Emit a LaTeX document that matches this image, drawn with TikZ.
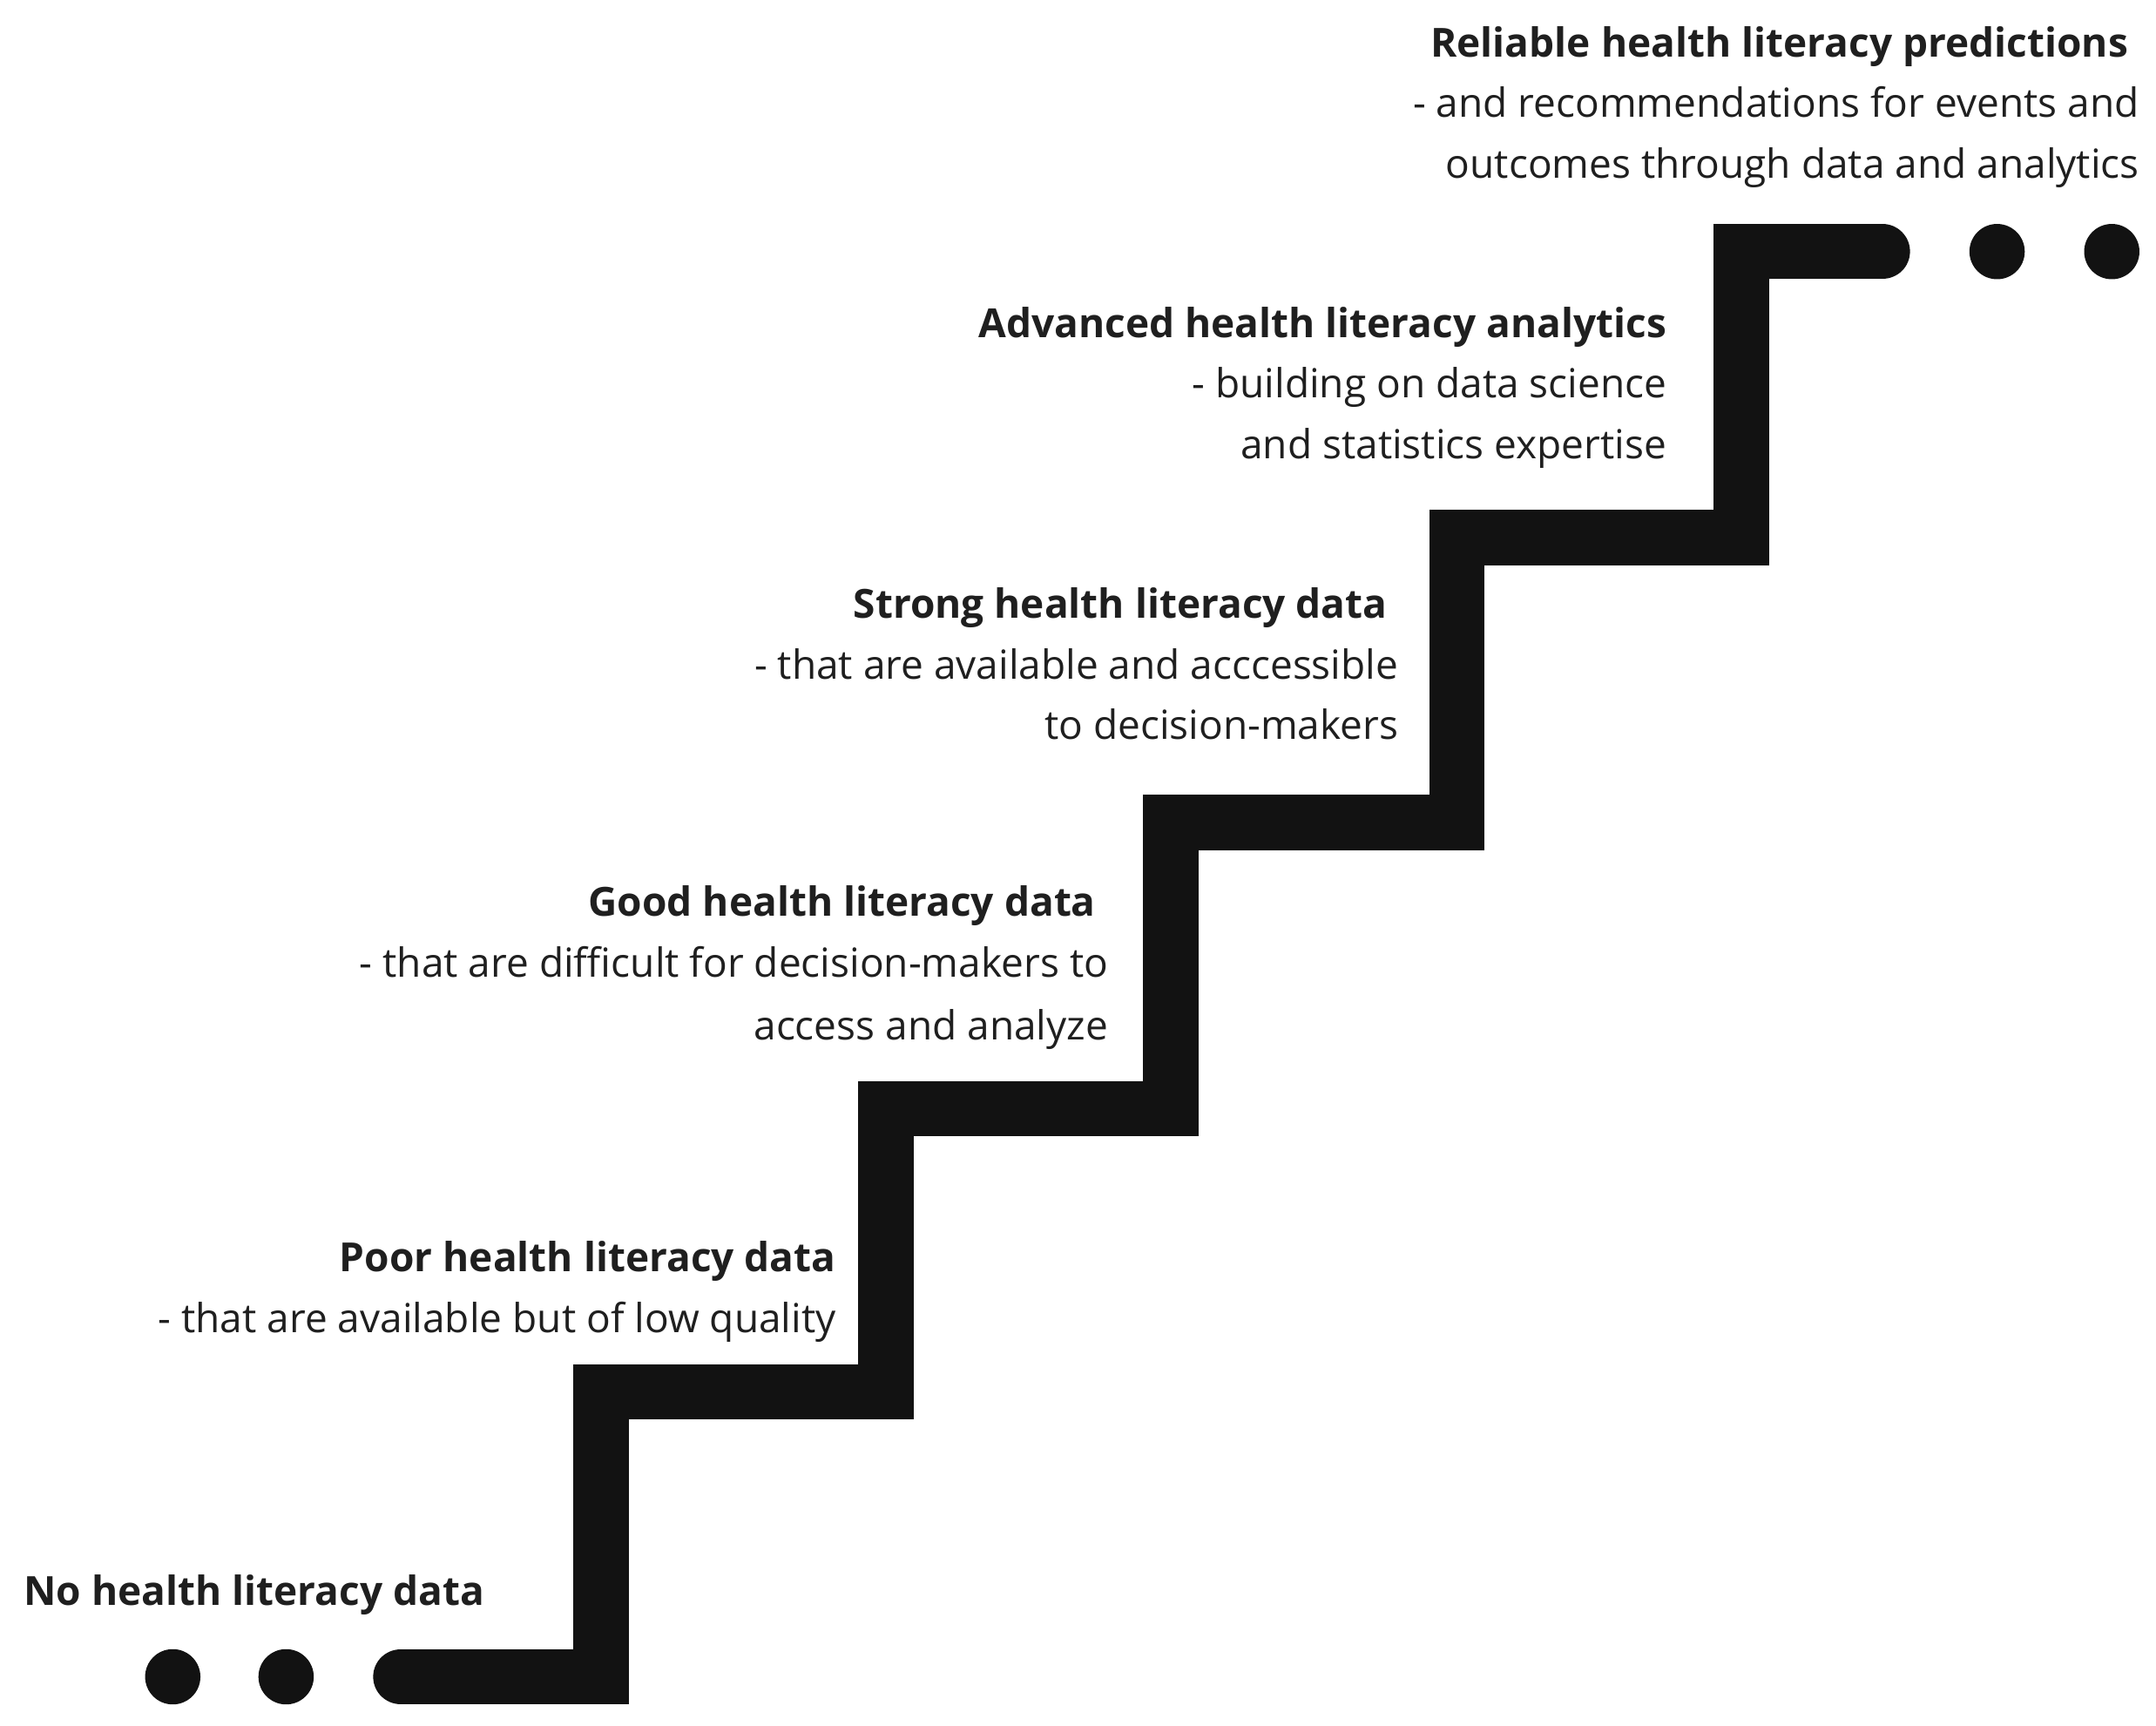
\documentclass[tikz,border=0pt]{standalone}
\usepackage{fontspec}
\setmainfont{Open Sans}
\begin{document}
\begin{tikzpicture}[x=1pt,y=-1pt,
  lbl/.style={anchor=base east,inner sep=0pt,font=\fontsize{29}{35}\selectfont,text=black!88},
  hd/.style={lbl,font=\fontsize{29}{35}\selectfont\bfseries},
  dot/.style={circle,fill=black!93,minimum size=40pt,inner sep=0pt}]
\useasboundingbox (0,0) rectangle (1560,1248);
\draw[line width=40pt,black!93,line cap=round,line join=miter]
  (290,1213) -- (435,1213) -- (435,1007) -- (641,1007) -- (641,802) -- (847,802)
  -- (847,595) -- (1054,595) -- (1054,389) -- (1260,389) -- (1260,182) -- (1362,182);
\node[dot] (d1) at (125,1213) {};
\node[dot] (d2) at (207,1213) {};
\node[dot] (d3) at (1445,182) {};
\node[dot] (d4) at (1528,182) {};
\node[hd] (r1) at (1540,41) {Reliable health literacy predictions};
\node[lbl] (r2) at (1548,85) {- and recommendations for events and};
\node[lbl] (r3) at (1548,129) {outcomes through data and analytics};
\node[hd] (a1) at (1206,244) {Advanced health literacy analytics};
\node[lbl] (a2) at (1206,288) {- building on data science};
\node[lbl] (a3) at (1206,332) {and statistics expertise};
\node[hd] (s1) at (1004,447) {Strong health literacy data};
\node[lbl] (s2) at (1012,491) {- that are available and acccessible};
\node[lbl] (s3) at (1012,535) {to decision-makers};
\node[hd] (g1) at (793,663) {Good health literacy data};
\node[lbl] (g2) at (802,707) {- that are difficult for decision-makers to};
\node[lbl] (g3) at (802,752) {access and analyze};
\node[hd] (p1) at (605,920) {Poor health literacy data};
\node[lbl] (p2) at (605,964) {- that are available but of low quality};
\node[hd,anchor=base west] (n1) at (17,1161) {No health literacy data};
\end{tikzpicture}
\end{document}
